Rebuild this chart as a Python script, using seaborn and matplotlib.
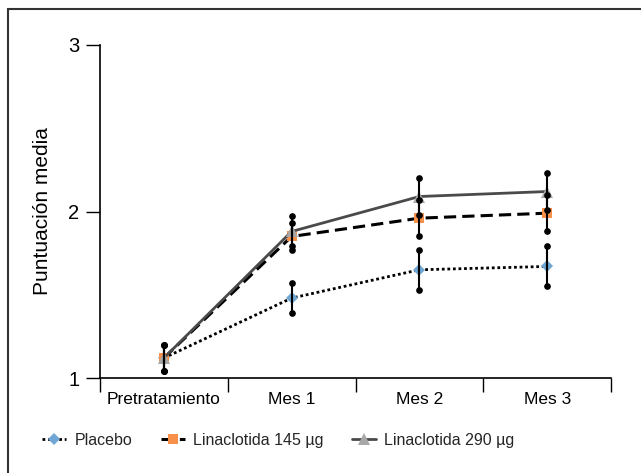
import matplotlib
matplotlib.use("Agg")
import matplotlib.pyplot as plt
import seaborn as sns
import pandas as pd
import numpy as np
from matplotlib.patches import Rectangle

categories = ["Pretratamiento", "Mes 1", "Mes 2", "Mes 3"]
placebo = [1.12, 1.48, 1.65, 1.67]
placebo_err = [0.08, 0.09, 0.12, 0.12]
lina145 = [1.12, 1.85, 1.96, 1.99]
lina145_err = [0.08, 0.08, 0.11, 0.11]
lina290 = [1.12, 1.88, 2.09, 2.12]
lina290_err = [0.08, 0.09, 0.11, 0.11]
series_names = ["Placebo", "Linaclotida 145 µg", "Linaclotida 290 µg"]
yticks = [1, 2, 3]

sns.set_theme(style="ticks")
plt.rcParams["font.family"] = ["Liberation Sans", "DejaVu Sans"]

fig = plt.figure(figsize=(6.41, 4.73), dpi=100)
ax = fig.add_axes([100/641, 1-378/473, 511/641, 333/473])

x = np.arange(len(categories))
styles = [
    dict(vals=placebo, err=placebo_err, color="black", ls=(0, (1, 1)), lw=2.0,
         marker="D", ms=6.5, mfc="#6fa6d3"),
    dict(vals=lina145, err=lina145_err, color="black", ls=(0, (4, 2)), lw=2.2,
         marker="s", ms=6.5, mfc="#f7904a"),
    dict(vals=lina290, err=lina290_err, color="#4a4a4a", ls="-", lw=2.0,
         marker="^", ms=8, mfc="#a8a8a8"),
]

for name, st in zip(series_names, styles):
    df = pd.DataFrame({"x": x, "y": st["vals"]})
    sns.lineplot(data=df, x="x", y="y", ax=ax, color=st["color"], linestyle=st["ls"],
                 linewidth=st["lw"], marker=st["marker"], markersize=st["ms"],
                 markerfacecolor=st["mfc"], markeredgecolor=st["mfc"], markeredgewidth=0,
                 label=name, zorder=3)

for st in styles:
    v = np.array(st["vals"]); e = np.array(st["err"])
    ax.vlines(x, v - e, v + e, color="black", lw=1.5, zorder=4)
    ax.plot(x, v - e, "o", color="black", ms=3.8, zorder=5, label="_nolegend_")
    ax.plot(x, v + e, "o", color="black", ms=3.8, zorder=5, label="_nolegend_")

ax.set_xlim(-0.5, len(categories) - 0.5)
ax.set_ylim(1, 3)
ax.set_yticks(yticks)
ax.set_yticklabels([str(t) for t in yticks], fontsize=14.5)
ax.set_xticks(np.arange(-0.5, len(categories), 1.0))
ax.set_xticklabels([])
ax.set_xticks(x, minor=True)
ax.set_xticklabels(categories, minor=True, fontsize=12.5)
ax.tick_params(axis="x", which="major", direction="out", length=10, width=1, color="black")
ax.tick_params(axis="x", which="minor", length=0, pad=10, labelcolor="black")
ax.tick_params(axis="y", direction="out", length=10, width=1, color="black", pad=5, labelcolor="black")
ax.set_xlabel("")
ax.set_ylabel("Puntuación media", fontsize=15, color="black")
ax.yaxis.set_label_coords(-0.093, 0.5)
for s in ["top", "right"]:
    ax.spines[s].set_visible(False)
for s in ["left", "bottom"]:
    ax.spines[s].set_color("black")
    ax.spines[s].set_linewidth(1.2)

handles, labels = ax.get_legend_handles_labels()
if ax.get_legend():
    ax.get_legend().remove()
fig.legend(handles, labels, loc="center left", bbox_to_anchor=(28/641, 1-440/473),
           ncol=3, frameon=False, fontsize=11.5, handlelength=1.5, handletextpad=0.5,
           columnspacing=1.8)

fig.add_artist(Rectangle((8/641, -0.2), 1.2, 0.2 + 1 - 9/473, transform=fig.transFigure,
                         fill=False, edgecolor="#333333", lw=1.5))

fig.savefig("out.png", dpi=100)
